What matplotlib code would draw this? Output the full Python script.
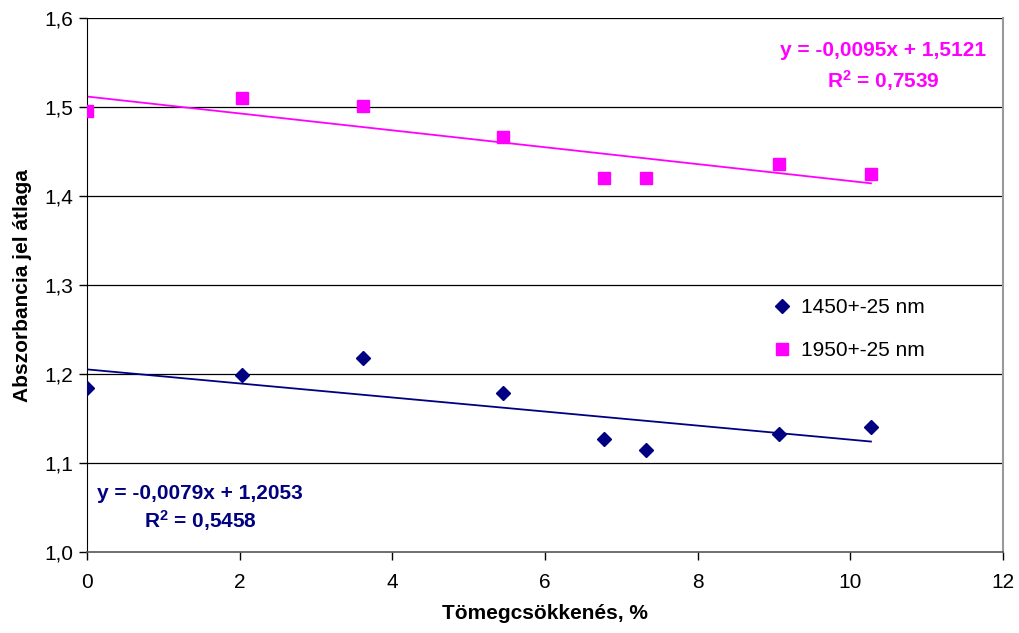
#!/usr/bin/env python3

import numpy as np
import matplotlib
matplotlib.use('Agg')
import matplotlib.pyplot as plt

plt.rcParams['font.family'] = ['Liberation Sans', 'DejaVu Sans']
plt.rcParams['mathtext.fontset'] = 'custom'
plt.rcParams['mathtext.rm'] = 'Liberation Sans'
plt.rcParams['mathtext.bf'] = 'Liberation Sans:bold'

# Data
mass_loss = [0.0, 2.03, 3.62, 5.45, 6.77, 7.32, 9.07, 10.27]
abs_1450 = [1.184, 1.199, 1.218, 1.179, 1.127, 1.115, 1.133, 1.140]
abs_1950 = [1.496, 1.510, 1.501, 1.467, 1.421, 1.421, 1.436, 1.425]
fit_1450 = (-0.0079, 1.2053)
fit_1950 = (-0.0095, 1.5121)
r2_1450 = '0,5458'
r2_1950 = '0,7539'
label_1450 = '1450+-25 nm'
label_1950 = '1950+-25 nm'
xticks = [0, 2, 4, 6, 8, 10, 12]
yticks = [1.0, 1.1, 1.2, 1.3, 1.4, 1.5, 1.6]

c_blue = '#000080'
c_pink = '#ff00ff'
fs = 15


def fmt(v, nd):
    return ('%.*f' % (nd, v)).replace('.', ',')


def main():
    fig = plt.figure(figsize=(10.19, 6.33), dpi=100)
    ax = fig.add_axes([0.0854, 0.128, 0.8989, 0.843])

    for y in yticks[1:]:
        ax.axhline(y, color='#000000', lw=0.9, zorder=1)

    x = np.array(mass_loss)
    xl = np.array([x.min(), x.max()])
    ax.plot(xl, fit_1450[0] * xl + fit_1450[1], color=c_blue, lw=1.3, zorder=2)
    ax.plot(xl, fit_1950[0] * xl + fit_1950[1], color=c_pink, lw=1.3, zorder=2)

    ax.plot(x, abs_1450, 'D', color=c_blue, ms=7, ls='none', label=label_1450, zorder=3)
    ax.plot(x, abs_1950, 's', color=c_pink, ms=8.5, ls='none', label=label_1950, zorder=3)

    ax.set_xlim(0, 12)
    ax.set_ylim(1.0, 1.6)
    ax.set_xticks(xticks)
    ax.set_yticks(yticks)
    ax.set_xticklabels([str(t) for t in xticks])
    ax.set_yticklabels([fmt(t, 1) for t in yticks])
    ax.tick_params(labelsize=fs, length=6, width=1, color='#000000', pad=4)
    ax.tick_params(axis='x', pad=9)

    ax.spines['top'].set_visible(False)
    ax.spines['right'].set_color('#999999')
    ax.spines['right'].set_linewidth(1.5)
    ax.spines['bottom'].set_color('#555555')
    ax.spines['left'].set_color('#000000')
    ax.spines['bottom'].set_linewidth(1.2)

    ax.set_xlabel('Tömegcsökkenés, %', fontsize=fs, fontweight='bold', labelpad=9)
    ax.set_ylabel('Abszorbancia jel átlaga', fontsize=fs, fontweight='bold', labelpad=9)

    ax.legend(loc='center left', bbox_to_anchor=(0.734, 0.417), frameon=False,
              fontsize=fs, handletextpad=0.3, labelspacing=1.15,
              handlelength=1.2, borderpad=0)

    # Trendline equations
    ax.text(0.869, 0.940, 'y = %sx + %s' % (fmt(fit_1950[0], 4), fmt(fit_1950[1], 4)),
            transform=ax.transAxes, ha='center', va='center', color=c_pink,
            fontsize=fs, fontweight='bold')
    ax.text(0.869, 0.884, '$\\mathbf{R^2}$ = %s' % r2_1950,
            transform=ax.transAxes, ha='center', va='center', color=c_pink,
            fontsize=fs, fontweight='bold')
    ax.text(0.1234, 0.110, 'y = %sx + %s' % (fmt(fit_1450[0], 4), fmt(fit_1450[1], 4)),
            transform=ax.transAxes, ha='center', va='center', color=c_blue,
            fontsize=fs, fontweight='bold')
    ax.text(0.1234, 0.058, '$\\mathbf{R^2}$ = %s' % r2_1450,
            transform=ax.transAxes, ha='center', va='center', color=c_blue,
            fontsize=fs, fontweight='bold')

    fig.savefig('out.png', dpi=100)


if (__name__ == '__main__'):
    main()
